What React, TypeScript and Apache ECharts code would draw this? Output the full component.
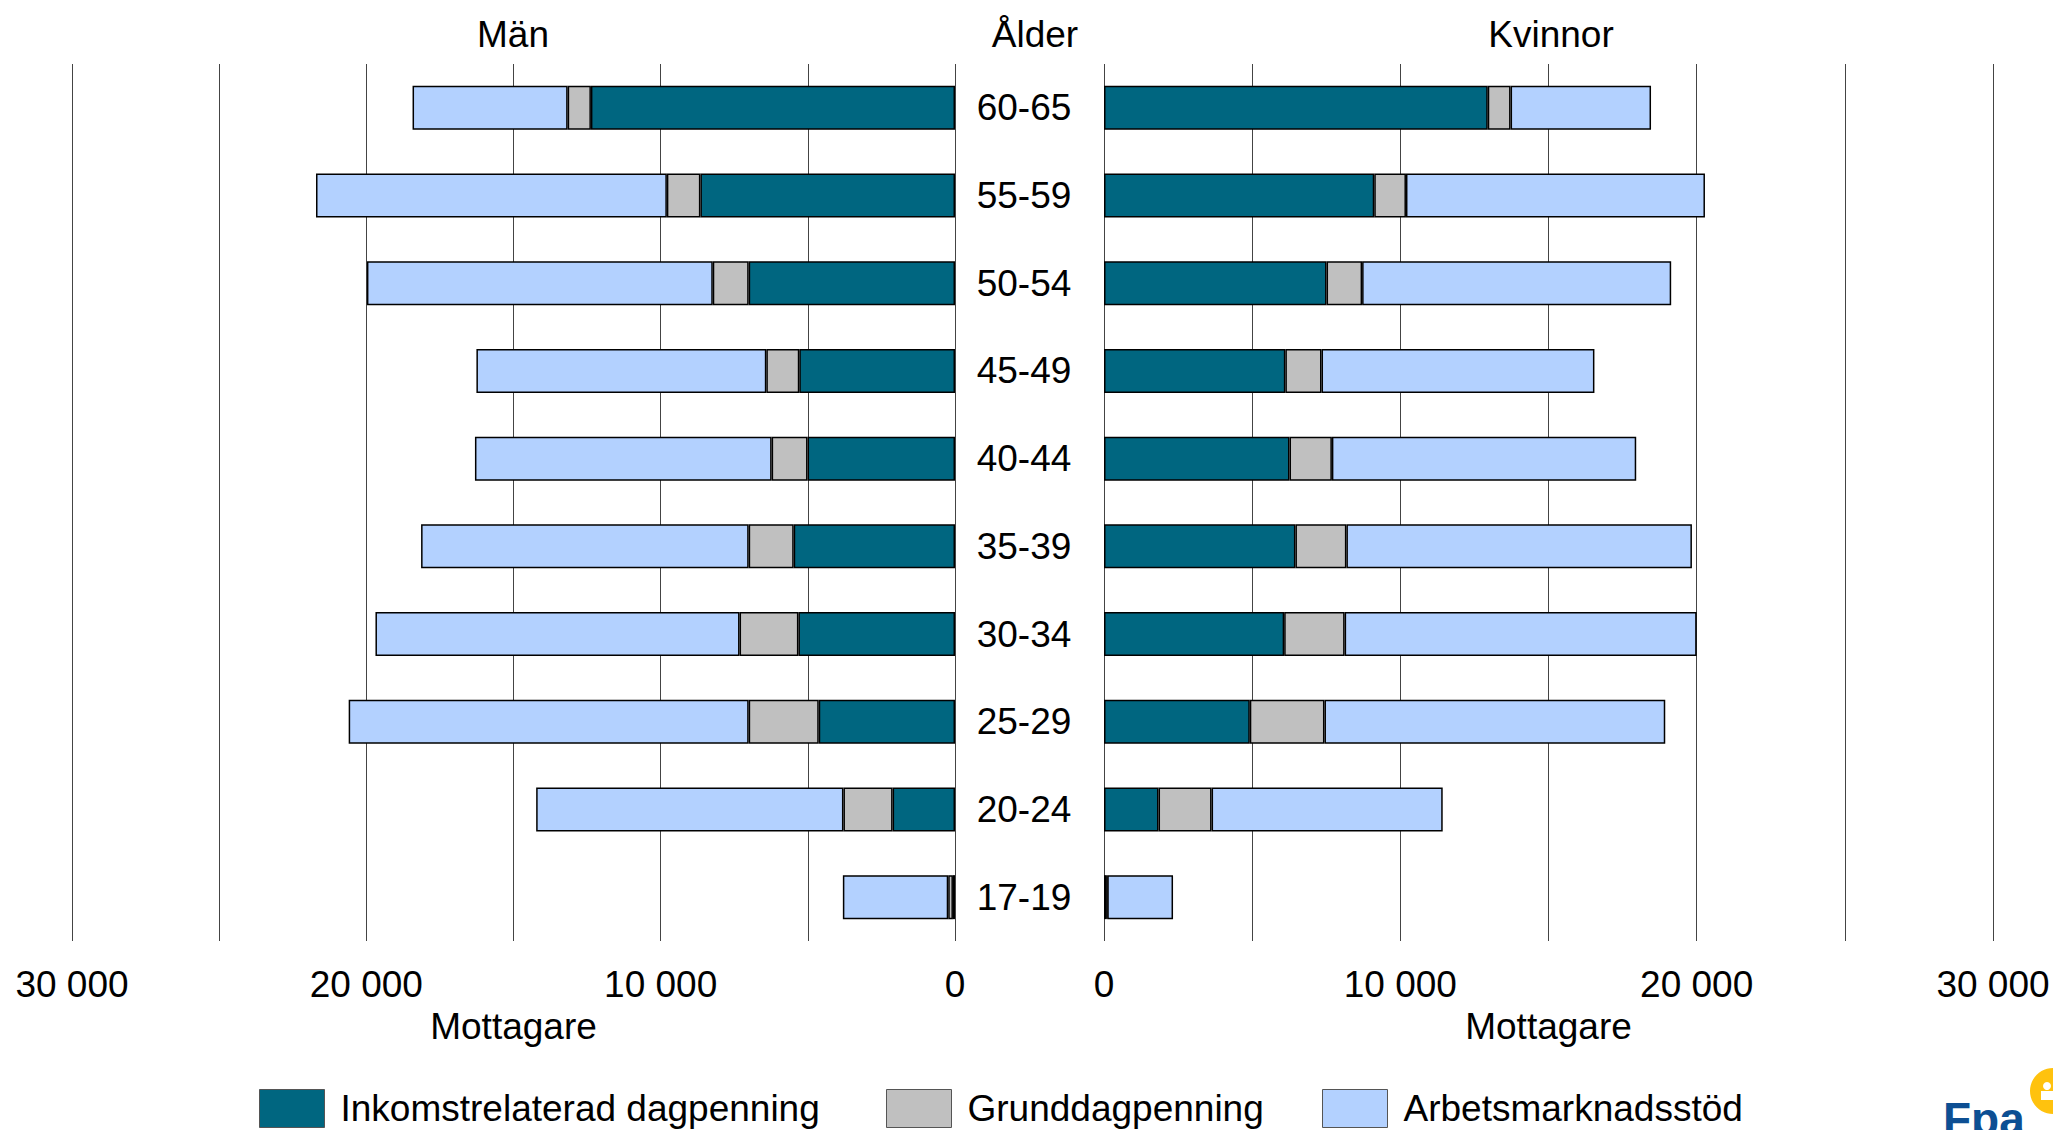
import React, { useEffect, useRef } from "react";
import * as echarts from "echarts";

const ages = ["17-19", "20-24", "25-29", "30-34", "35-39", "40-44", "45-49", "50-54", "55-59", "60-65"];

const menInkomst = [70, 2120, 4630, 5320, 5480, 5010, 5290, 7010, 8650, 12370];
const menGrund = [160, 1670, 2380, 2000, 1530, 1220, 1120, 1220, 1140, 790];
const menArbets = [3580, 10440, 13590, 12370, 11130, 10080, 9850, 11750, 11920, 5270];

const womenInkomst = [90, 1840, 4920, 6080, 6460, 6260, 6120, 7510, 9120, 12950];
const womenGrund = [20, 1790, 2520, 2040, 1720, 1430, 1220, 1200, 1070, 770];
const womenArbets = [2220, 7800, 11500, 11880, 11660, 10270, 9210, 10430, 10090, 4740];

const seriesNames = ["Inkomstrelaterad dagpenning", "Grunddagpenning", "Arbetsmarknadsstöd"];
const seriesColors = ["#006680", "#C0C0C0", "#B3D1FF"];
const xTicks = [0, 10000, 20000, 30000];

const FONT = "'Liberation Sans', Arial, Helvetica, sans-serif";
const FS = 37;

function fmt(v: number): string {
  if (!xTicks.includes(v)) return "";
  const s = String(v);
  return s.replace(/\B(?=(\d{3})+(?!\d))/g, " ");
}

export default function App() {
  const ref = useRef<HTMLDivElement>(null);
  useEffect(() => {
    document.body.style.margin = "0";
    if (!ref.current) return;
    const chart = echarts.init(ref.current, undefined, { renderer: "svg" });

    const xAxisCommon = {
      type: "value" as const,
      min: 0,
      max: 30000,
      interval: 5000,
      axisLine: { show: false },
      axisTick: { show: false },
      splitLine: { show: true, lineStyle: { color: "#444", width: 1 } },
      axisLabel: {
        formatter: fmt,
        fontSize: FS,
        fontFamily: FONT,
        color: "#000",
        margin: 43,
        verticalAlign: "middle" as const,
      },
      name: "Mottagare",
      nameLocation: "middle" as const,
      nameGap: 85,
      nameTextStyle: { fontSize: FS, fontFamily: FONT, color: "#000", verticalAlign: "middle" as const },
    };

    const barStyle = (i: number) => ({
      color: seriesColors[i],
      borderColor: "#000",
      borderWidth: 1.5,
    });

    const menData = [menInkomst, menGrund, menArbets];
    const womenData = [womenInkomst, womenGrund, womenArbets];

    const series: any[] = [];
    menData.forEach((d, i) => {
      series.push({
        type: "bar",
        name: seriesNames[i],
        xAxisIndex: 0,
        yAxisIndex: 0,
        stack: "men",
        barWidth: 44,
        data: d,
        itemStyle: barStyle(i),
      });
    });
    womenData.forEach((d, i) => {
      series.push({
        type: "bar",
        name: seriesNames[i],
        xAxisIndex: 1,
        yAxisIndex: 1,
        stack: "women",
        barWidth: 44,
        data: d,
        itemStyle: barStyle(i),
      });
    });

    const legendPos = [259, 886, 1322];
    const legends = seriesNames.map((n, i) => ({
      data: [n],
      left: legendPos[i],
      top: 1089,
      padding: 0,
      itemWidth: 65,
      itemHeight: 38,
      icon: "rect",
      itemStyle: { borderColor: "#555", borderWidth: 1 },
      textStyle: { fontSize: FS, fontFamily: FONT, color: "#000", padding: [0, 0, 0, 11] },
      selectedMode: false,
    }));

    chart.setOption({
      animation: false,
      backgroundColor: "#fff",
      textStyle: { fontFamily: FONT },
      grid: [
        { left: 72, right: 2053 - 955, top: 64, bottom: 1130 - 941 },
        { left: 1104, right: 2053 - 1993, top: 64, bottom: 1130 - 941 },
      ],
      xAxis: [
        { ...xAxisCommon, gridIndex: 0, inverse: true },
        { ...xAxisCommon, gridIndex: 1 },
      ],
      yAxis: [
        {
          type: "category",
          gridIndex: 0,
          data: ages,
          position: "right",
          axisLine: { show: false },
          axisTick: { show: false },
          axisLabel: {
            fontSize: FS,
            fontFamily: FONT,
            color: "#000",
            align: "center",
            margin: 69,
          },
        },
        {
          type: "category",
          gridIndex: 1,
          data: ages,
          position: "left",
          axisLine: { show: false },
          axisTick: { show: false },
          axisLabel: { show: false },
        },
      ],
      legend: legends,
      series,
      graphic: [
        { type: "text", left: undefined, x: 513, y: 34, style: { text: "Män", fontSize: FS, fontFamily: FONT, fill: "#000", align: "center", verticalAlign: "middle" } },
        { type: "text", x: 1035, y: 34, style: { text: "Ålder", fontSize: FS, fontFamily: FONT, fill: "#000", align: "center", verticalAlign: "middle" } },
        { type: "text", x: 1551, y: 34, style: { text: "Kvinnor", fontSize: FS, fontFamily: FONT, fill: "#000", align: "center", verticalAlign: "middle" } },
        { type: "text", x: 1943, y: 1119, style: { text: "Fpa", fontSize: 46, fontWeight: "bold", fontFamily: FONT, fill: "#0D4F93", align: "left", verticalAlign: "middle" } },
        { type: "circle", shape: { cx: 2053, cy: 1091, r: 23 }, style: { fill: "#FFC20E" } },
        { type: "circle", shape: { cx: 2047, cy: 1086, r: 4 }, style: { fill: "#fff" } },
        { type: "rect", shape: { x: 2041, y: 1091, width: 12, height: 9 }, style: { fill: "#fff" } },
      ],
    });
    return () => chart.dispose();
  }, []);
  return <div ref={ref} style={{ position: "absolute", left: 0, top: 0, width: 2053, height: 1130 }} />;
}
